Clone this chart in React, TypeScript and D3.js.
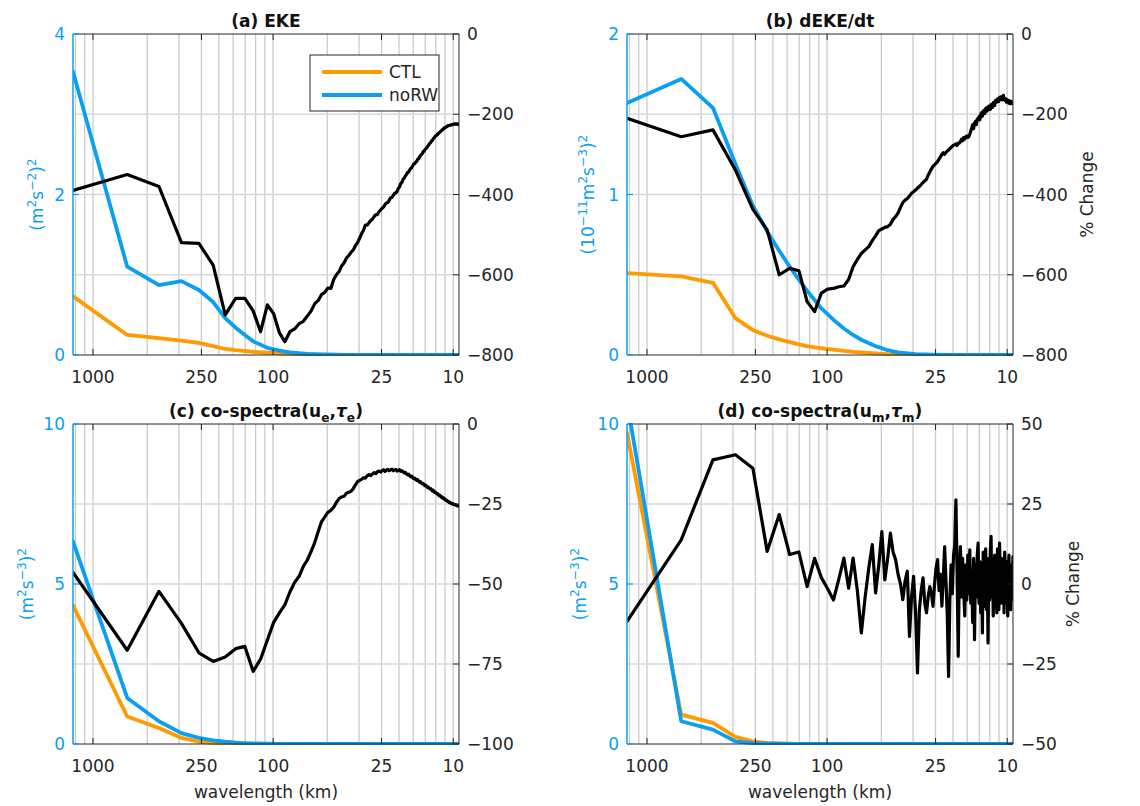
import React from 'react';
import * as d3 from 'd3';

// ---------- data ----------
// spectral bins: wavelength = DOMAIN_KM / n
const DOMAIN_KM = 1291;
const N_MAX = 139;
const waveN = d3.range(1, N_MAX + 1);
const smoothN = [1, 2, 3, 4, 5, 6, 7, 8, 9, 10, 12, 14, 16, 18, 20, 24, 28, 32, 40, 50, 64, 80, 100, 139];

const xTickLabels = [1000, 250, 100, 25, 10];
const gridWavelengths = [1250, 1111.1, 1000, 500, 333.3, 250, 200, 166.7, 142.9, 125, 111.1, 100, 50, 33.33, 25, 20, 16.67, 14.29, 12.5, 11.11, 10];

const legendLabels = ['CTL', 'noRW'];

// (a) EKE
const ekeCTL = [0.73, 0.25, 0.21, 0.18, 0.15, 0.11, 0.075, 0.06, 0.05, 0.04, 0.028, 0.02, 0.014, 0.01, 0.008, 0.005, 0.003, 0.002, 0.001, 0, 0, 0, 0, 0];
const ekeNoRW = [3.53, 1.1, 0.87, 0.92, 0.81, 0.66, 0.46, 0.34, 0.25, 0.17, 0.09, 0.055, 0.034, 0.022, 0.015, 0.008, 0.004, 0.002, 0.001, 0, 0, 0, 0, 0];
const ekeChange = [
  -390, -350, -380, -520, -522, -576, -700, -659, -659, -690,
  -742, -675, -697, -745, -767, -742, -735, -722, -716, -703,
  -690, -672, -664, -649, -644, -633, -634, -612, -600, -592,
  -578, -570, -558, -552, -544, -538, -527, -520, -509, -498,
  -489, -476, -476, -470, -465, -461, -455, -450, -450, -443,
  -439, -434, -431, -425, -421, -420, -414, -408, -407, -402,
  -397, -396, -392, -385, -381, -373, -370, -362, -359, -354,
  -350, -345, -344, -339, -335, -333, -328, -324, -323, -319,
  -317, -312, -311, -306, -303, -300, -298, -293, -292, -288,
  -286, -284, -280, -278, -274, -272, -270, -266, -265, -261,
  -259, -257, -254, -253, -252, -249, -248, -245, -245, -242,
  -241, -240, -237, -237, -234, -234, -233, -231, -231, -229,
  -229, -228, -228, -227, -227, -226, -226, -225, -226, -225,
  -224, -225, -224, -224, -225, -224, -225, -226, -225,
];

// (b) dEKE/dt
const dekeCTL = [0.51, 0.49, 0.45, 0.23, 0.155, 0.12, 0.097, 0.08, 0.066, 0.055, 0.042, 0.033, 0.026, 0.02, 0.016, 0.01, 0.006, 0.004, 0.002, 0.001, 0, 0, 0, 0];
const dekeNoRW = [1.57, 1.72, 1.54, 1.19, 0.93, 0.77, 0.65, 0.55, 0.47, 0.4, 0.29, 0.22, 0.165, 0.125, 0.095, 0.055, 0.03, 0.017, 0.006, 0.002, 0, 0, 0, 0];
const dekeChange = [
  -210, -256, -239, -339, -437, -488, -600, -584, -590, -667,
  -692, -646, -636, -634, -630, -628, -612, -580, -562, -547,
  -538, -530, -515, -503, -490, -486, -482, -480, -474, -462,
  -455, -446, -432, -420, -414, -410, -404, -397, -393, -389,
  -384, -380, -375, -370, -366, -362, -352, -344, -336, -330,
  -326, -322, -318, -312, -306, -300, -296, -300, -295, -292,
  -289, -286, -282, -280, -277, -276, -274, -278, -272, -272,
  -268, -262, -266, -258, -262, -256, -254, -258, -256, -250,
  -242, -235, -226, -236, -222, -218, -226, -212, -210, -206,
  -214, -200, -196, -205, -192, -190, -198, -186, -184, -192,
  -182, -180, -181, -188, -176, -175, -183, -171, -170, -178,
  -166, -165, -170, -162, -161, -168, -158, -160, -162, -156,
  -164, -158, -153, -164, -160, -166, -162, -170, -164, -168,
  -172, -166, -170, -174, -168, -172, -173, -170, -174,
];

// (c) co-spectra(u_e, tau_e)
const coeCTL = [4.33, 0.86, 0.5, 0.19, 0.07, 0.035, 0.02, 0.01, 0.006, 0.004, 0.002, 0.001, 0, 0, 0, 0, 0, 0, 0, 0, 0, 0, 0, 0];
const coeNoRW = [6.33, 1.44, 0.71, 0.34, 0.19, 0.11, 0.07, 0.045, 0.03, 0.02, 0.01, 0.005, 0.003, 0.002, 0.001, 0, 0, 0, 0, 0, 0, 0, 0, 0];
const coeChange = [
  -46.4, -70.7, -52.3, -62.3, -71.5, -74.2, -72.8, -70.2, -69.5, -77.3,
  -73.5, -67.5, -62.0, -59.0, -56.5, -52.5, -49.5, -47.6, -44.5, -42.5,
  -39.8, -37.0, -33.5, -30.5, -29.0, -27.6, -27.0, -26.0, -24.5, -23.3,
  -22.8, -22.6, -21.6, -21.3, -21.0, -20.2, -19.0, -18.0, -17.6, -17.3,
  -16.8, -16.9, -16.2, -15.8, -16.1, -15.6, -15.2, -15.5, -14.9, -14.7,
  -15.0, -14.6, -14.3, -14.8, -14.4, -14.2, -14.6, -14.3, -14.1, -14.6,
  -14.4, -14.2, -14.7, -14.5, -14.3, -14.8, -14.6, -14.9, -15.3, -15.1,
  -15.6, -15.9, -15.7, -16.2, -16.5, -16.3, -16.8, -17.1, -16.9, -17.4,
  -17.6, -17.4, -17.9, -18.2, -18.0, -18.5, -18.7, -18.6, -19.0, -19.3,
  -19.1, -19.6, -19.8, -19.7, -20.1, -20.3, -20.2, -20.6, -20.9, -20.7,
  -21.2, -21.4, -21.3, -21.7, -21.9, -21.8, -22.2, -22.4, -22.3, -22.7,
  -22.9, -22.8, -23.2, -23.3, -23.2, -23.6, -23.8, -23.7, -24.0, -24.2,
  -24.1, -24.4, -24.6, -24.5, -24.7, -24.9, -24.8, -25.0, -25.1, -25.0,
  -25.2, -25.3, -25.2, -25.4, -25.5, -25.4, -25.6, -25.6, -25.7,
];

// (d) co-spectra(u_m, tau_m)
const comCTL = [9.72, 0.92, 0.66, 0.22, 0.08, 0.03, 0.015, 0.008, 0.004, 0.002, 0.001, 0, 0, 0, 0, 0, 0, 0, 0, 0, 0, 0, 0, 0];
const comNoRW = [10.7, 0.71, 0.45, 0.08, 0.03, 0.015, 0.008, 0.005, 0.003, 0.002, 0.001, 0, 0, 0, 0, 0, 0, 0, 0, 0, 0, 0, 0, 0];
const comChange = [
  -11.7, 13.8, 38.8, 40.4, 36.2, 10.2, 21.7, 9.2, 10.0, -0.8,
  8.0, 2.0, -1.5, -5.0, 1.5, 8.1, -1.3, 8.1, -2.0, -15.3,
  -4.0, 5.0, 12.3, -2.8, 6.0, 16.4, 1.3, 8.0, 15.9, 10.0,
  7.6, 3.0, 0.0, -4.9, 1.0, 4.0, -16.4, -4.0, 2.4, -9.0,
  -27.8, -8.0, -2.0, 1.9, -6.0, -9.0, -4.0, -0.8, -3.0, -7.0,
  0.0, 5.0, 7.6, -2.0, 3.0, -6.9, 2.0, 11.7, 1.0, -10.0,
  -28.9, -5.0, 6.0, -3.0, 9.0, 12.0, 26.3, 4.0, -22.6, 5.0,
  11.7, -4.0, 8.0, -2.0, -10.0, 6.0, -5.0, 9.0, -3.0, 10.7,
  -6.0, 4.0, -12.0, 8.0, -17.4, 6.0, -4.0, 9.0, 12.8, -6.0,
  7.0, -9.0, 5.0, -15.3, 10.0, -7.0, 4.0, 11.0, -8.0, 6.0,
  -18.4, 8.0, -5.0, 10.0, 14.9, -4.0, 7.0, -10.0, 3.0, 9.0,
  -7.0, 5.0, -9.0, 11.0, 2.0, -8.0, 12.8, 4.0, -6.0, 8.0,
  -3.0, -5.9, 6.0, -9.0, 10.0, 0.0, -6.0, -3.9, 7.0, -10.0,
  4.0, 9.0, -4.0, 6.0, -8.0, 2.0, -5.0, 3.0, 8.6,
];

// ---------- style ----------
const BLUE = '#0a9ff0';
const ORANGE = '#ff9a00';
const INK = '#262626';
const FONT = '"DejaVu Sans", Verdana, sans-serif';
const COLOR_W = 3.8;
const BLACK_W = 3.2;

type Seg = { t: string; s?: 'sup' | 'sub'; i?: boolean };

function RichText({ segs, fs, ...props }: any) {
  let cur = 0;
  return (
    <text {...props} fontSize={fs}>
      {segs.map((seg: Seg, k: number) => {
        const target = seg.s === 'sup' ? -0.42 * fs : seg.s === 'sub' ? 0.32 * fs : 0;
        const dy = target - cur;
        cur = target;
        return (
          <tspan key={k} dy={dy !== 0 ? dy : undefined} fontSize={seg.s ? fs * 0.72 : fs} fontStyle={seg.i ? 'italic' : undefined}>
            {seg.t}
          </tspan>
        );
      })}
    </text>
  );
}

const fmt = (v: number) => (v < 0 ? '\u2212' + Math.abs(v) : String(v));

const panels = [
  {
    key: 'a', box: { l: 73, r: 459, t: 34, b: 355 },
    leftDomain: [0, 4], leftTicks: [0, 2, 4], rightDomain: [-800, 0], rightTicks: [0, -200, -400, -600, -800],
    ctl: ekeCTL, norw: ekeNoRW, change: ekeChange,
    title: [{ t: '(a) EKE' }],
    yLabel: [{ t: '(m' }, { t: '2', s: 'sup' }, { t: 's' }, { t: '\u22122', s: 'sup' }, { t: ')' }, { t: '2', s: 'sup' }],
    yLabelX: 37, rightLabel: false, rightLabelX: 0, xLabel: false, legend: true,
  },
  {
    key: 'b', box: { l: 627, r: 1013, t: 34, b: 355 },
    leftDomain: [0, 2], leftTicks: [0, 1, 2], rightDomain: [-800, 0], rightTicks: [0, -200, -400, -600, -800],
    ctl: dekeCTL, norw: dekeNoRW, change: dekeChange,
    title: [{ t: '(b) dEKE/dt' }],
    yLabel: [{ t: '(10' }, { t: '\u221211', s: 'sup' }, { t: 'm' }, { t: '2', s: 'sup' }, { t: 's' }, { t: '\u22123', s: 'sup' }, { t: ')' }, { t: '2', s: 'sup' }],
    yLabelX: 588, rightLabel: true, rightLabelX: 1087, xLabel: false, legend: false,
  },
  {
    key: 'c', box: { l: 73, r: 459, t: 424, b: 744 },
    leftDomain: [0, 10], leftTicks: [0, 5, 10], rightDomain: [-100, 0], rightTicks: [0, -25, -50, -75, -100],
    ctl: coeCTL, norw: coeNoRW, change: coeChange,
    title: [{ t: '(c) co-spectra(u' }, { t: 'e', s: 'sub' }, { t: ',' }, { t: '\u03c4', i: true }, { t: 'e', s: 'sub' }, { t: ')' }],
    yLabel: [{ t: '(m' }, { t: '2', s: 'sup' }, { t: 's' }, { t: '\u22123', s: 'sup' }, { t: ')' }, { t: '2', s: 'sup' }],
    yLabelX: 27, rightLabel: false, rightLabelX: 0, xLabel: true, legend: false,
  },
  {
    key: 'd', box: { l: 627, r: 1013, t: 424, b: 744 },
    leftDomain: [0, 10], leftTicks: [0, 5, 10], rightDomain: [-50, 50], rightTicks: [50, 25, 0, -25, -50],
    ctl: comCTL, norw: comNoRW, change: comChange,
    title: [{ t: '(d) co-spectra(u' }, { t: 'm', s: 'sub' }, { t: ',' }, { t: '\u03c4', i: true }, { t: 'm', s: 'sub' }, { t: ')' }],
    yLabel: [{ t: '(m' }, { t: '2', s: 'sup' }, { t: 's' }, { t: '\u22123', s: 'sup' }, { t: ')' }, { t: '2', s: 'sup' }],
    yLabelX: 580, rightLabel: true, rightLabelX: 1073, xLabel: true, legend: false,
  },
];

function Panel({ spec }: any) {
  const { l, r, t, b } = spec.box;
  const x = d3.scaleLog().domain([DOMAIN_KM, DOMAIN_KM / N_MAX]).range([l, r]);
  const yL = d3.scaleLinear().domain(spec.leftDomain).range([b, t]);
  const yR = d3.scaleLinear().domain(spec.rightDomain).range([b, t]);
  const lineL = d3.line<number[]>().x((d) => x(DOMAIN_KM / d[0])).y((d) => yL(d[1]));
  const lineR = d3.line<number[]>().x((d) => x(DOMAIN_KM / d[0])).y((d) => yR(d[1]));
  const ctlPts = smoothN.map((n, i) => [n, spec.ctl[i]]);
  const norwPts = smoothN.map((n, i) => [n, spec.norw[i]]);
  const chgPts = waveN.map((n, i) => [n, spec.change[i]]);
  const clipId = `clip-${spec.key}`;
  const [rd0, rd1] = spec.rightDomain;
  const cx = (l + r) / 2;
  const cy = (t + b) / 2;
  const tick = 6;

  return (
    <g>
      <defs>
        <clipPath id={clipId}>
          <rect x={l} y={t - 1} width={r - l} height={b - t + 2} />
        </clipPath>
      </defs>
      <rect x={l} y={t} width={r - l} height={b - t} fill="#fff" />
      {gridWavelengths.filter((w) => w <= DOMAIN_KM).map((w) => (
        <line key={'gv' + w} x1={x(w)} x2={x(w)} y1={t} y2={b} stroke="#cbcbcb" strokeWidth={1.3} />
      ))}
      {spec.rightTicks.filter((v: number) => v !== rd0 && v !== rd1).map((v: number) => (
        <line key={'gh' + v} x1={l} x2={r} y1={yR(v)} y2={yR(v)} stroke="#d3dae4" strokeWidth={1.3} />
      ))}
      <g clipPath={`url(#${clipId})`} fill="none" strokeLinejoin="round" strokeLinecap="round">
        <path d={lineL(ctlPts) || ''} stroke={ORANGE} strokeWidth={COLOR_W} />
        <path d={lineL(norwPts) || ''} stroke={BLUE} strokeWidth={COLOR_W} />
        <path d={lineR(chgPts) || ''} stroke="#000" strokeWidth={BLACK_W} />
      </g>
      {/* box */}
      <line x1={l} x2={r} y1={t} y2={t} stroke={INK} strokeWidth={1} />
      <line x1={l} x2={r} y1={b} y2={b} stroke={INK} strokeWidth={1} />
      <line x1={r} x2={r} y1={t} y2={b} stroke={INK} strokeWidth={1} />
      <line x1={l} x2={l} y1={t} y2={b} stroke={BLUE} strokeWidth={1.5} />
      {/* x ticks */}
      {xTickLabels.map((w) => (
        <g key={'xt' + w}>
          <line x1={x(w)} x2={x(w)} y1={b} y2={b - tick} stroke={INK} />
          <line x1={x(w)} x2={x(w)} y1={t} y2={t + tick} stroke={INK} />
          <text x={x(w)} y={b + 28} textAnchor="middle" fontSize={17} fill={INK}>{w}</text>
        </g>
      ))}
      {/* left ticks */}
      {spec.leftTicks.map((v: number) => (
        <g key={'lt' + v}>
          <line x1={l} x2={l + tick} y1={yL(v)} y2={yL(v)} stroke={BLUE} strokeWidth={1.2} />
          <text x={l - 8} y={yL(v) + 6} textAnchor="end" fontSize={17} fill={BLUE}>{fmt(v)}</text>
        </g>
      ))}
      {/* right ticks */}
      {spec.rightTicks.map((v: number) => (
        <g key={'rt' + v}>
          <line x1={r} x2={r - tick} y1={yR(v)} y2={yR(v)} stroke={INK} />
          <text x={r + 8} y={yR(v) + 6} textAnchor="start" fontSize={17} fill={INK}>{fmt(v)}</text>
        </g>
      ))}
      <RichText segs={spec.title} fs={17} x={cx} y={t - 7} textAnchor="middle" fontWeight="bold" fill="#111" />
      <RichText segs={spec.yLabel} fs={17} x={0} y={6} textAnchor="middle" fill={BLUE}
        transform={`translate(${spec.yLabelX},${cy}) rotate(-90)`} />
      {spec.rightLabel && (
        <text x={0} y={6} textAnchor="middle" fontSize={17} fill={INK}
          transform={`translate(${spec.rightLabelX},${cy}) rotate(-90)`}>% Change</text>
      )}
      {spec.xLabel && (
        <text x={cx} y={b + 54} textAnchor="middle" fontSize={17} fill={INK}>wavelength (km)</text>
      )}
      {spec.legend && (
        <g>
          <rect x={310} y={55} width={129} height={56} fill="#fff" stroke={INK} strokeWidth={1} />
          <line x1={322} x2={382} y1={72} y2={72} stroke={ORANGE} strokeWidth={COLOR_W} />
          <line x1={322} x2={382} y1={95} y2={95} stroke={BLUE} strokeWidth={COLOR_W} />
          <text x={389} y={78} fontSize={17} fill={INK}>{legendLabels[0]}</text>
          <text x={389} y={101} fontSize={17} fill={INK}>{legendLabels[1]}</text>
        </g>
      )}
    </g>
  );
}

export default function App() {
  return (
    <svg width={1140} height={806} viewBox="0 0 1140 806" fontFamily={FONT}
      style={{ position: 'absolute', left: 0, top: 0, background: '#fff' }}>
      <rect x={0} y={0} width={1140} height={806} fill="#fff" />
      {panels.map((p) => <Panel key={p.key} spec={p} />)}
    </svg>
  );
}
